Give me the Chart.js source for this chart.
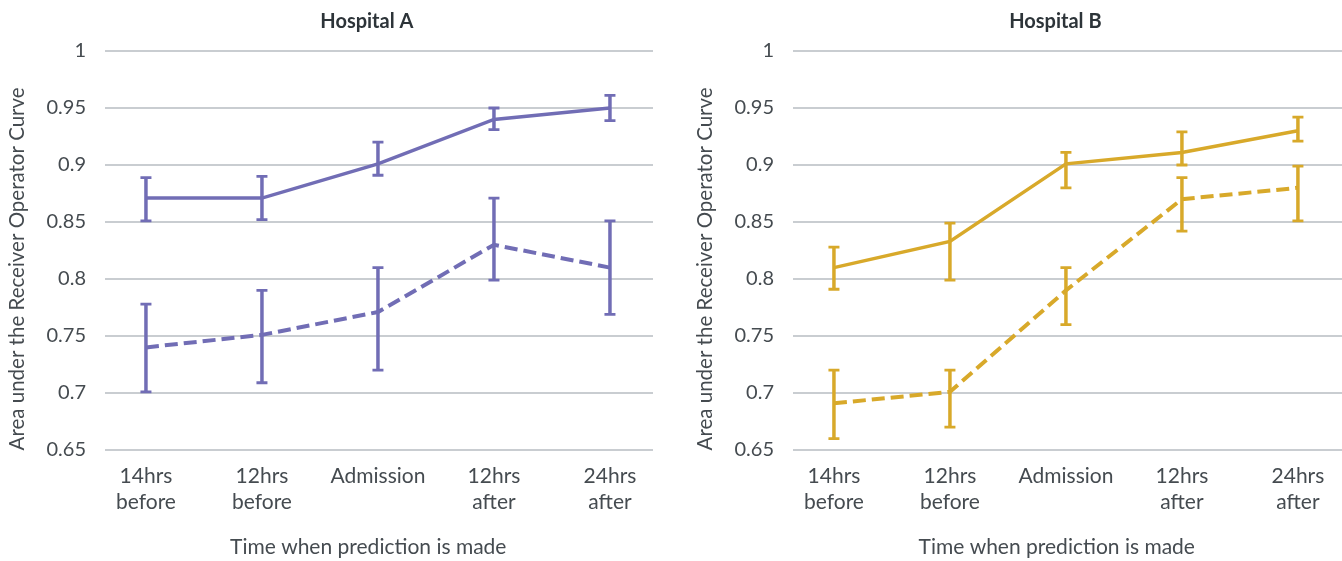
<!DOCTYPE html>
<html>
<head>
<meta charset="utf-8">
<script src="https://cdn.jsdelivr.net/npm/chart.js@4.4.1/dist/chart.umd.min.js"></script>
<style>
  html, body { margin: 0; padding: 0; background: #fff; }
  #wrap { position: relative; width: 1342px; height: 561px; }
  .box { position: absolute; top: 0; width: 671px; height: 561px; }
  #boxA { left: 0; }
  #boxB { left: 671px; }
</style>
</head>
<body>
<div id="wrap">
  <div class="box" id="boxA"><canvas id="chartA"></canvas></div>
  <div class="box" id="boxB"><canvas id="chartB"></canvas></div>
</div>
<script>
// categories (two-line labels)
const categories = [
  ['14hrs', 'before'],
  ['12hrs', 'before'],
  ['Admission'],
  ['12hrs', 'after'],
  ['24hrs', 'after']
];
const yTicks = [0.65, 0.7, 0.75, 0.8, 0.85, 0.9, 0.95, 1];

// Hospital A
const aSolid = [0.871, 0.871, 0.901, 0.940, 0.950];
const aSolidLow = [0.851, 0.852, 0.891, 0.931, 0.939];
const aSolidHigh = [0.889, 0.890, 0.920, 0.950, 0.961];
const aDashed = [0.740, 0.751, 0.771, 0.830, 0.810];
const aDashedLow = [0.701, 0.709, 0.720, 0.799, 0.769];
const aDashedHigh = [0.778, 0.790, 0.810, 0.871, 0.851];

// Hospital B
const bSolid = [0.810, 0.833, 0.901, 0.911, 0.930];
const bSolidLow = [0.791, 0.799, 0.880, 0.900, 0.921];
const bSolidHigh = [0.828, 0.849, 0.911, 0.929, 0.942];
const bDashed = [0.691, 0.701, 0.790, 0.870, 0.880];
const bDashedLow = [0.660, 0.670, 0.760, 0.842, 0.851];
const bDashedHigh = [0.720, 0.720, 0.810, 0.889, 0.899];

const tickColor = '#454b50';
const gridColor = '#c9cdd1';

function toPoints(vals) {
  return vals.map((v, i) => ({ x: i, y: v }));
}

// error bars drawn through the chart's own scales
const errorBars = {
  id: 'errorBars',
  afterDatasetsDraw(chart) {
    const ctx = chart.ctx;
    const xs = chart.scales.x, ys = chart.scales.y;
    chart.data.datasets.forEach(ds => {
      ctx.save();
      ctx.strokeStyle = ds.borderColor;
      ds.low.forEach((lo, i) => {
        const x = xs.getPixelForValue(i);
        const yl = ys.getPixelForValue(lo);
        const yh = ys.getPixelForValue(ds.high[i]);
        ctx.lineWidth = 3.5;
        ctx.beginPath();
        ctx.moveTo(x, yl);
        ctx.lineTo(x, yh);
        ctx.stroke();
        ctx.lineWidth = 2.8;
        ctx.beginPath();
        ctx.moveTo(x - 5.5, yl);
        ctx.lineTo(x + 5.5, yl);
        ctx.moveTo(x - 5.5, yh);
        ctx.lineTo(x + 5.5, yh);
        ctx.stroke();
      });
      ctx.restore();
    });
  }
};

// trailing spaces nudge the centred titles a little, like the original layout
function makeChart(id, title, color, solid, sLow, sHigh, dashed, dLow, dHigh, padLeft, padRight, xMax) {
  const ctx = document.getElementById(id).getContext('2d');
  return new Chart(ctx, {
    type: 'line',
    data: {
      datasets: [
        {
          data: toPoints(solid),
          low: sLow, high: sHigh,
          borderColor: color,
          borderWidth: 3.5,
          pointRadius: 0,
          tension: 0
        },
        {
          data: toPoints(dashed),
          low: dLow, high: dHigh,
          borderColor: color,
          borderWidth: 4,
          borderDash: [13, 6],
          pointRadius: 0,
          tension: 0
        }
      ]
    },
    options: {
      responsive: false,
      animation: false,
      layout: { padding: { left: padLeft, right: padRight, top: 0, bottom: 0 } },
      plugins: {
        legend: { display: false },
        tooltip: { enabled: false },
        title: {
          display: true,
          fullSize: false,
          text: title + '     ',
          color: '#2d3439',
          font: { family: 'Lato', size: 20, weight: 'bold' },
          padding: { top: 10, bottom: 17 }
        }
      },
      scales: {
        x: {
          type: 'linear',
          min: -0.353,
          max: xMax,
          border: { display: false },
          grid: { display: false },
          afterBuildTicks: s => { s.ticks = categories.map((c, i) => ({ value: i })); },
          afterFit: s => { s.height = 111; },
          ticks: {
            color: tickColor,
            font: { family: 'Lato', size: 21 },
            padding: 6,
            maxRotation: 0,
            autoSkip: false,
            callback: (v) => categories[v]
          },
          title: {
            display: true,
            text: 'Time when prediction is made    ',
            color: tickColor,
            font: { family: 'Lato', size: 21 },
            padding: { top: 0, bottom: 1 }
          }
        },
        y: {
          min: 0.65,
          max: 1,
          border: { display: false },
          grid: { color: gridColor, lineWidth: 2, drawTicks: false },
          afterBuildTicks: s => { s.ticks = yTicks.map(v => ({ value: v })); },
          afterFit: s => { s.width = 105; },
          ticks: {
            color: tickColor,
            font: { family: 'Lato', size: 20 },
            padding: 19,
            callback: v => String(Math.round(v * 100) / 100)
          },
          title: {
            display: true,
            text: 'Area under the Receiver Operator Curve       ',
            color: tickColor,
            font: { family: 'Lato', size: 20.5 },
            padding: { top: 5, bottom: 0 }
          }
        }
      }
    },
    plugins: [errorBars]
  });
}

document.getElementById('chartA').width = 671;
document.getElementById('chartA').height = 561;
document.getElementById('chartB').width = 671;
document.getElementById('chartB').height = 561;

makeChart('chartA', 'Hospital A', '#716db5', aSolid, aSolidLow, aSolidHigh, aDashed, aDashedLow, aDashedHigh, 0, 18, 4.371);
makeChart('chartB', 'Hospital B', '#d8a92a', bSolid, bSolidLow, bSolidHigh, bDashed, bDashedLow, bDashedHigh, 17, 0, 4.38);
</script>
</body>
</html>
